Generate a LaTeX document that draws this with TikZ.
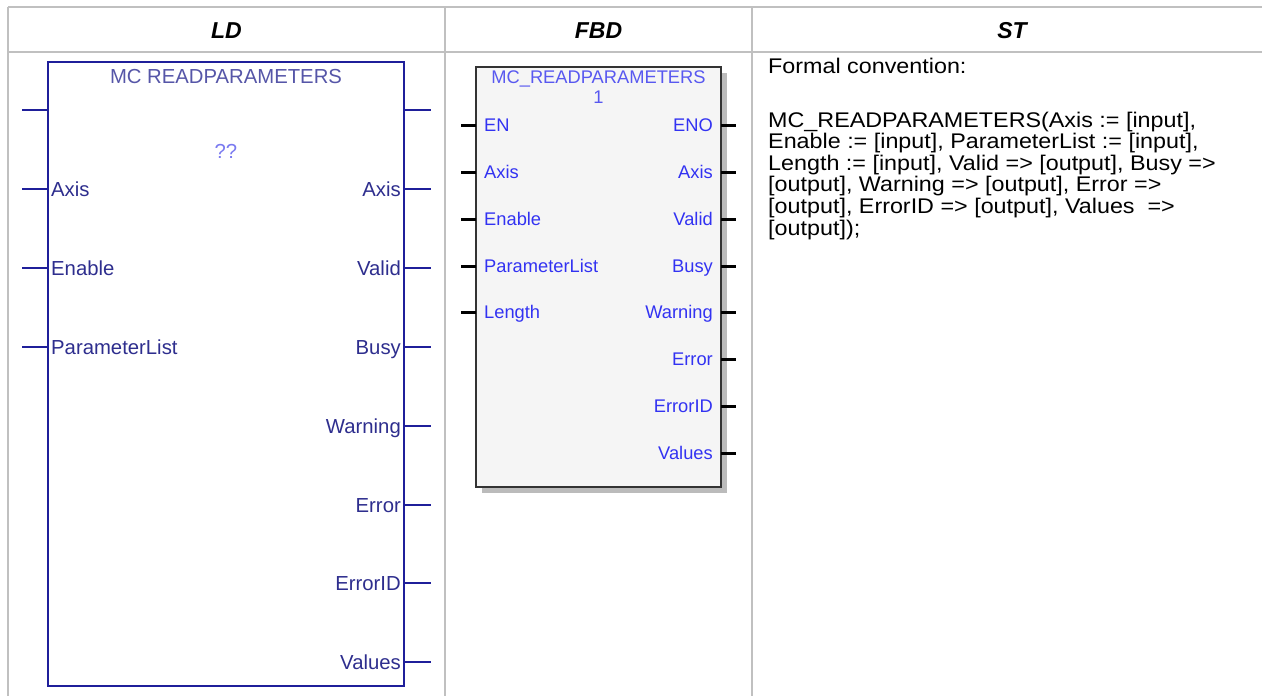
\documentclass[tikz,border=0pt]{standalone}
\usepackage{fontspec}
\setmainfont{Liberation Sans}
\newfontfamily\stfont[FakeStretch=1.1]{Liberation Sans}
\definecolor{gridgray}{HTML}{C0C0C0}
\definecolor{ldline}{HTML}{1F1F9A}
\definecolor{ldtext}{HTML}{2E2E8E}
\definecolor{ldtitle}{HTML}{5656A8}
\definecolor{ldq}{HTML}{7A7AF0}
\definecolor{fbdtext}{HTML}{3232F2}
\definecolor{fbdtitle}{HTML}{5858F0}
\definecolor{fbdfill}{HTML}{F5F5F5}
\definecolor{fbdline}{HTML}{333333}
\definecolor{fbdshadow}{HTML}{BBBBBB}
\tikzset{
  gridline/.style={draw=gridgray, line width=1.6pt},
  hdr/.style={anchor=base, inner sep=0pt, font=\fontsize{23}{27}\selectfont\bfseries\itshape},
  ldbox/.style={draw=ldline, line width=2pt, fill=white, inner sep=0pt, outer sep=0pt},
  ldpin/.style={draw=ldline, line width=2pt},
  ldlbl/.style={inner sep=0pt, text=ldtext, font=\fontsize{20.3}{23}\selectfont},
  fbdbox/.style={draw=fbdline, line width=2pt, fill=fbdfill, inner sep=0pt, outer sep=0pt},
  fbdpin/.style={draw=black, line width=3pt},
  fbdlbl/.style={inner sep=0pt, text=fbdtext, font=\fontsize{18.3}{21}\selectfont},
  sttxt/.style={anchor=base west, inner sep=0pt, font=\stfont\fontsize{21.2}{21.6}\selectfont}
}
\begin{document}
\begin{tikzpicture}[x=1pt,y=-1pt]
\useasboundingbox (0,0) rectangle (1262,696);
% table grid
\draw[gridline] (8,7) -- (1262,7);
\draw[gridline] (8,52) -- (1262,52);
\draw[gridline] (8,7) -- (8,696);
\draw[gridline] (445,7) -- (445,696);
\draw[gridline] (752,7) -- (752,696);
% headers
\node[hdr] (hLD) at (226.5,38.3) {LD};
\node[hdr] (hFBD) at (598.5,38.3) {FBD};
\node[hdr] (hST) at (1012,38.3) {ST};

% ---------- LD ----------
\node[ldbox, anchor=north west, minimum width=356pt, minimum height=624pt] (ld) at (48,62) {};
\node[ldlbl, anchor=base, text=ldtitle] (ldtitle) at (226,83) {MC READPARAMETERS};
\node[ldlbl, anchor=base, text=ldq] (ldq) at (226,158) {??};
% left pins
\foreach \i/\y/\t in {0/110/,1/189/Axis,2/268/Enable,3/347/ParameterList}{
  \coordinate (ldinE\i) at (48,\y);
  \coordinate (ldinS\i) at (22,\y);
  \draw[ldpin] (ldinS\i) -- (ldinE\i);
  \node[ldlbl, anchor=base west] (ldin\i) at (51,\y+7) {\t};
}
% right pins
\foreach \i/\y/\t in {0/110/,1/189/Axis,2/268/Valid,3/347/Busy,4/426/Warning,5/505/Error,6/583/ErrorID,7/662/Values}{
  \coordinate (ldoutS\i) at (404,\y);
  \coordinate (ldoutE\i) at (431,\y);
  \draw[ldpin] (ldoutS\i) -- (ldoutE\i);
  \node[ldlbl, anchor=base east] (ldout\i) at (401,\y+7) {\t};
}

% ---------- FBD ----------
\fill[fbdshadow] (482,73) rectangle (727,493);
\node[fbdbox, anchor=north west, minimum width=245pt, minimum height=420pt] (fbd) at (476,67) {};
\node[fbdlbl, anchor=base, text=fbdtitle] (fbdtitle) at (598.5,83) {MC\_READPARAMETERS};
\node[fbdlbl, anchor=base, text=fbdtitle] (fbdnum) at (598.5,103) {1};
\foreach \i/\y/\t in {0/125/EN,1/172/Axis,2/219/Enable,3/266/ParameterList,4/312/Length}{
  \coordinate (fbinS\i) at (461,\y);
  \coordinate (fbinE\i) at (476,\y);
  \draw[fbdpin] (fbinS\i) -- (fbinE\i);
  \node[fbdlbl, anchor=base west] (fbin\i) at (484,\y+6.5) {\t};
}
\foreach \i/\y/\t in {0/125/ENO,1/172/Axis,2/219/Valid,3/266/Busy,4/312/Warning,5/359/Error,6/406/ErrorID,7/453/Values}{
  \coordinate (fboutS\i) at (721,\y);
  \coordinate (fboutE\i) at (736,\y);
  \draw[fbdpin] (fboutS\i) -- (fboutE\i);
  \node[fbdlbl, anchor=base east] (fbout\i) at (713,\y+6.5) {\t};
}

% ---------- ST ----------
\node[sttxt] (st0) at (768,73) {Formal convention:};
\node[sttxt] (st1) at (768,127) {MC\_READPARAMETERS(Axis := [input],};
\node[sttxt] (st2) at (768,148.6) {Enable := [input], ParameterList := [input],};
\node[sttxt] (st3) at (768,170.2) {Length := [input], Valid => [output], Busy =>};
\node[sttxt] (st4) at (768,191.8) {[output], Warning => [output], Error =>};
\node[sttxt] (st5) at (768,213.4) {[output], ErrorID => [output], Values\ \ =>};
\node[sttxt] (st6) at (768,235) {[output]);};
\end{tikzpicture}
\end{document}
